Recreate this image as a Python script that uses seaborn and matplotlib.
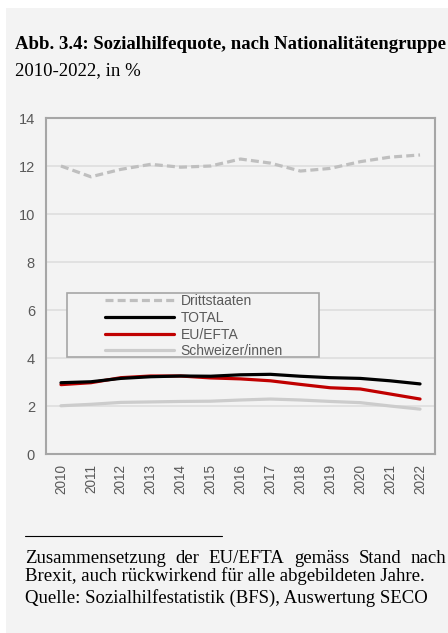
import matplotlib
matplotlib.use("Agg")
import matplotlib.pyplot as plt
from matplotlib.patches import Rectangle
from matplotlib.lines import Line2D
import seaborn as sns
import pandas as pd

years = [str(y) for y in range(2010, 2023)]
drittstaaten = [12.0, 11.55, 11.86, 12.07, 11.95, 12.0, 12.29, 12.12, 11.79, 11.9, 12.18, 12.37, 12.46]
total = [2.97, 3.01, 3.15, 3.22, 3.25, 3.24, 3.3, 3.32, 3.24, 3.18, 3.15, 3.05, 2.92]
eu_efta = [2.89, 2.97, 3.18, 3.25, 3.25, 3.17, 3.13, 3.05, 2.9, 2.76, 2.71, 2.5, 2.29]
schweizer = [2.01, 2.07, 2.15, 2.17, 2.19, 2.2, 2.25, 2.29, 2.25, 2.19, 2.14, 2.0, 1.87]
y_ticks = [0, 2, 4, 6, 8, 10, 12, 14]

series = {
    "Drittstaaten": drittstaaten,
    "TOTAL": total,
    "EU/EFTA": eu_efta,
    "Schweizer/innen": schweizer,
}
df = pd.DataFrame(
    [(yr, name, v) for name, vals in series.items() for yr, v in zip(years, vals)],
    columns=["Jahr", "Gruppe", "Quote"],
)

palette = {
    "Drittstaaten": "#bfbfbf",
    "TOTAL": "#000000",
    "EU/EFTA": "#c00000",
    "Schweizer/innen": "#cccccc",
}
dash_pattern = (2.5, 1.3)
dashes = {
    "Drittstaaten": dash_pattern,
    "TOTAL": "",
    "EU/EFTA": "",
    "Schweizer/innen": "",
}
LW = 2.3

sns.set_theme(style="white")
bg = "#f3f3f3"
sans = ["Liberation Sans", "DejaVu Sans"]
serif = ["Liberation Serif", "DejaVu Serif"]
plt.rcParams["font.family"] = sans

W, H = 448, 633
fig = plt.figure(figsize=(W / 100, H / 100), dpi=100, facecolor="white")
fig.patches.append(Rectangle((6 / W, 0), 1 - 6 / W, 1 - 8 / H,
                             transform=fig.transFigure, facecolor=bg,
                             edgecolor="none", zorder=-10))

AX_L, AX_R, AX_T, AX_B = 46, 435, 118, 454
ax = fig.add_axes([AX_L / W, 1 - AX_B / H, (AX_R - AX_L) / W, (AX_B - AX_T) / H])
ax.set_facecolor(bg)


def ax_xy(px, py):
    """Pixel position on the page -> axes fraction."""
    return (px - AX_L) / (AX_R - AX_L), (AX_B - py) / (AX_B - AX_T)


order = ["Schweizer/innen", "EU/EFTA", "TOTAL", "Drittstaaten"]
sns.lineplot(data=df, x="Jahr", y="Quote", hue="Gruppe", style="Gruppe",
             hue_order=order, style_order=order, palette=palette,
             dashes=dashes, linewidth=LW, ax=ax, legend=False, sort=False)

ax.set_xlim(-0.5, len(years) - 0.5)
ax.set_ylim(0, 14)
ax.set_yticks(y_ticks)
ax.set_yticklabels([str(t) for t in y_ticks])
ax.set_xlabel("")
ax.set_ylabel("")
ax.grid(axis="y", color="#dedede", linewidth=1.2)
ax.set_axisbelow(True)
for s in ax.spines.values():
    s.set_color("#a6a6a6")
    s.set_linewidth(1.5)
ax.tick_params(axis="x", labelrotation=90, labelsize=9.8, colors="#595959",
               length=0, pad=7)
ax.tick_params(axis="y", labelsize=10.5, colors="#595959", length=0, pad=8)

# legend: framed box with the entries indented inside it
x0, y0 = ax_xy(67, 357)
x1, y1 = ax_xy(319, 293)
ax.add_patch(Rectangle((x0, y0), x1 - x0, y1 - y0, transform=ax.transAxes,
                       facecolor=bg, edgecolor="#a6a6a6", linewidth=1.2,
                       zorder=4))
handles = []
for n in series:
    h = Line2D([], [], color=palette[n], linewidth=LW)
    if dashes[n]:
        h.set_dashes(dashes[n])
    handles.append(h)
leg = ax.legend(handles, list(series.keys()), loc="upper left",
                bbox_to_anchor=ax_xy(105, 294), frameon=False,
                fontsize=10, handlelength=4.95, handletextpad=0.5,
                labelspacing=0.2, borderpad=0, borderaxespad=0)
leg.set_zorder(5)
for t in leg.get_texts():
    t.set_color("#595959")

fig.text(15 / W, 1 - 49 / H, "Abb. 3.4: Sozialhilfequote, nach Nationalitätengruppe",
         family=serif, fontsize=13.5, fontweight="bold", va="baseline", ha="left",
         color="black")
fig.text(15 / W, 1 - 75 / H, "2010-2022, in %", family=serif, fontsize=13.5,
         va="baseline", ha="left", color="black")

fig.add_artist(Line2D([25 / W, 222 / W], [1 - 536 / H, 1 - 536 / H],
                      transform=fig.transFigure, color="black", linewidth=0.8))

# first note line is set justified across the text column
renderer = fig.canvas.get_renderer()
first = "Zusammensetzung der EU/EFTA gemäss Stand nach"
words = first.split()
objs = [fig.text(0, 1 - 563 / H, w, family=serif, fontsize=13.5, va="baseline",
                 ha="left", color="black") for w in words]
widths = [o.get_window_extent(renderer).width for o in objs]
left_px, right_px = 25, 446
gap = (right_px - left_px - sum(widths)) / (len(words) - 1)
xpos = left_px
for o, wd in zip(objs, widths):
    o.set_x(xpos / W)
    xpos += wd + gap

notes = [
    (581, "Brexit, auch rückwirkend für alle abgebildeten Jahre."),
    (603, "Quelle: Sozialhilfestatistik (BFS), Auswertung SECO"),
]
for yy, txt in notes:
    fig.text(25 / W, 1 - yy / H, txt, family=serif, fontsize=13.5,
             va="baseline", ha="left", color="black")

fig.savefig("out.png", dpi=100, facecolor="white")
